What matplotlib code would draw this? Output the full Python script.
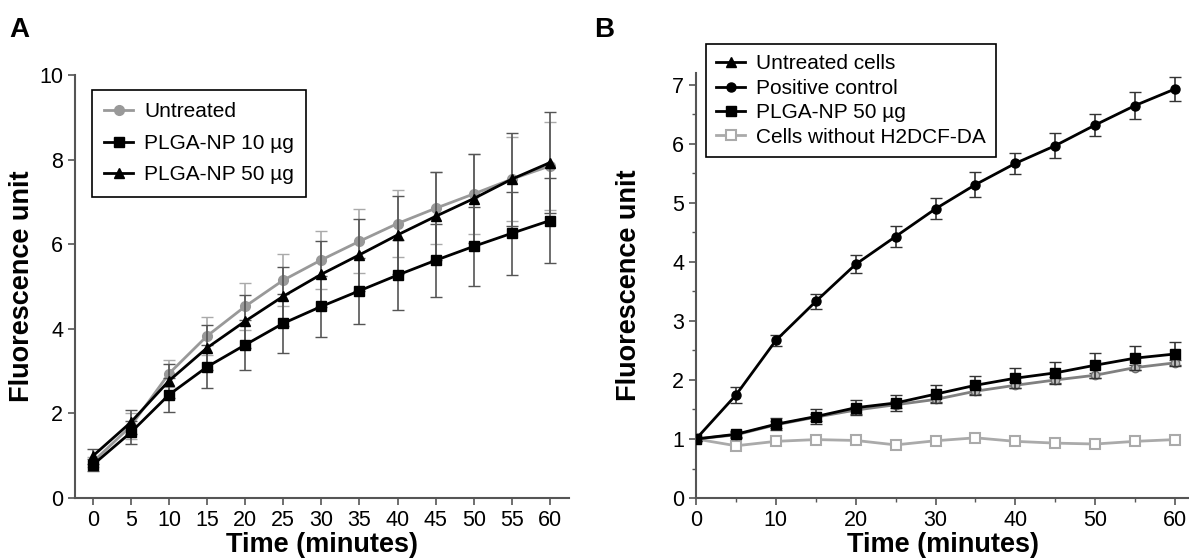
import numpy as np
import matplotlib
matplotlib.use('Agg')
import matplotlib.pyplot as plt
from matplotlib.lines import Line2D

plt.rcParams['font.family'] = ['Liberation Sans', 'DejaVu Sans']

# ---- panel A data ----
timeA = [0, 5, 10, 15, 20, 25, 30, 35, 40, 45, 50, 55, 60]
untreatedA = [0.85, 1.70, 2.94, 3.83, 4.53, 5.15, 5.63, 6.07, 6.49, 6.85, 7.19, 7.54, 7.85]
untreatedA_err = [0.12, 0.30, 0.32, 0.45, 0.56, 0.61, 0.69, 0.76, 0.80, 0.85, 0.95, 1.00, 1.03]
np10A = [0.78, 1.55, 2.44, 3.10, 3.62, 4.13, 4.53, 4.90, 5.27, 5.62, 5.95, 6.26, 6.56]
np10A_err = [0.15, 0.27, 0.40, 0.51, 0.60, 0.69, 0.73, 0.78, 0.83, 0.87, 0.93, 0.98, 1.00]
np50A = [0.99, 1.79, 2.77, 3.55, 4.18, 4.77, 5.29, 5.75, 6.22, 6.66, 7.08, 7.54, 7.93]
np50A_err = [0.18, 0.28, 0.40, 0.53, 0.63, 0.70, 0.78, 0.85, 0.92, 1.04, 1.06, 1.10, 1.20]

# ---- panel B data ----
timeB = [0, 5, 10, 15, 20, 25, 30, 35, 40, 45, 50, 55, 60]
posB = [1.0, 1.745, 2.67, 3.33, 3.96, 4.43, 4.90, 5.31, 5.67, 5.97, 6.32, 6.65, 6.93]
posB_err = [0.03, 0.13, 0.09, 0.13, 0.15, 0.18, 0.18, 0.21, 0.18, 0.21, 0.19, 0.23, 0.20]
np50B = [1.0, 1.08, 1.25, 1.38, 1.53, 1.61, 1.76, 1.91, 2.03, 2.12, 2.25, 2.37, 2.44]
np50B_err = [0.03, 0.05, 0.10, 0.12, 0.13, 0.13, 0.15, 0.16, 0.17, 0.19, 0.21, 0.20, 0.21]
untreatedB = [1.0, 1.07, 1.24, 1.37, 1.49, 1.58, 1.67, 1.81, 1.91, 2.00, 2.08, 2.21, 2.29]
untreatedB_err = [0.03, 0.05, 0.06, 0.06, 0.06, 0.06, 0.05, 0.05, 0.05, 0.05, 0.04, 0.04, 0.04]
noprobeB = [1.0, 0.885, 0.96, 0.99, 0.975, 0.90, 0.97, 1.02, 0.96, 0.93, 0.915, 0.96, 0.99]

fig = plt.figure(figsize=(11.89, 5.58), dpi=100)

spine_col = '#555555'

# ================= panel A =================
axA = fig.add_axes([0.0631, 0.1075, 0.4155, 0.758])
axA.errorbar(timeA, untreatedA, yerr=untreatedA_err, color='#999999', marker='o', ms=7,
             lw=2, ecolor='#aaaaaa', elinewidth=1.2, capsize=4, zorder=2)
axA.errorbar(timeA, np10A, yerr=np10A_err, color='black', marker='s', ms=6.5,
             lw=2, ecolor='#555555', elinewidth=1.2, capsize=4, zorder=3)
axA.errorbar(timeA, np50A, yerr=np50A_err, color='black', marker='^', ms=6.5,
             lw=2, ecolor='#555555', elinewidth=1.2, capsize=4, zorder=3)
axA.set_xlim(-2.32, 62.5)
axA.set_ylim(0, 10)
axA.set_xticks(timeA)
axA.set_yticks([0, 2, 4, 6, 8, 10])
axA.set_xlabel('Time (minutes)', fontsize=19.5, fontweight='bold', labelpad=1)
axA.set_ylabel('Fluorescence unit', fontsize=19.5, fontweight='bold', labelpad=3)
for s in ['top', 'right']:
    axA.spines[s].set_visible(False)
for s in ['left', 'bottom']:
    axA.spines[s].set_color(spine_col)
    axA.spines[s].set_linewidth(1.5)
axA.tick_params(axis='both', labelsize=15.5, color=spine_col, length=5, width=1.2, direction='out')
handlesA = [Line2D([], [], color='#999999', marker='o', ms=7, lw=2),
            Line2D([], [], color='black', marker='s', ms=6.5, lw=2),
            Line2D([], [], color='black', marker='^', ms=6.5, lw=2)]
legA = axA.legend(handlesA, ['Untreated', 'PLGA-NP 10 µg', 'PLGA-NP 50 µg'],
                  loc='upper left', bbox_to_anchor=(0.034, 0.965), borderaxespad=0,
                  fontsize=15, handlelength=1.4, handletextpad=0.5, labelspacing=0.6,
                  fancybox=False, framealpha=1, edgecolor='black', borderpad=0.6)
legA.get_frame().set_linewidth(1.2)

# ================= panel B =================
axB = fig.add_axes([0.5854, 0.1075, 0.4146, 0.7616])
axB.errorbar(timeB, noprobeB, color='#aaaaaa', marker='s', ms=7, mfc='white', mec='#aaaaaa',
             mew=1.5, lw=2, zorder=2)
axB.errorbar(timeB, untreatedB, yerr=untreatedB_err, color='#808080', marker='o', ms=6,
             mfc='#bbbbbb', mec='#707070', lw=2, ecolor='#444444', elinewidth=1.2, capsize=4, zorder=3)
axB.errorbar(timeB, np50B, yerr=np50B_err, color='black', marker='s', ms=6.5,
             lw=2, ecolor='#333333', elinewidth=1.2, capsize=4, zorder=4)
axB.errorbar(timeB, posB, yerr=posB_err, color='black', marker='o', ms=6.5,
             lw=2, ecolor='#333333', elinewidth=1.2, capsize=4, zorder=4)
axB.set_xlim(0, 61.75)
axB.set_ylim(0, 7.2)
axB.set_xticks([0, 10, 20, 30, 40, 50, 60])
axB.set_xticks([5, 15, 25, 35, 45, 55], minor=True)
axB.set_yticks([0, 1, 2, 3, 4, 5, 6, 7])
axB.set_yticks([0.5, 1.5, 2.5, 3.5, 4.5, 5.5, 6.5], minor=True)
axB.set_xlabel('Time (minutes)', fontsize=19.5, fontweight='bold', labelpad=1)
axB.set_ylabel('Fluorescence unit', fontsize=19.5, fontweight='bold', labelpad=22)
for s in ['top', 'right']:
    axB.spines[s].set_visible(False)
for s in ['left', 'bottom']:
    axB.spines[s].set_color(spine_col)
    axB.spines[s].set_linewidth(1.5)
axB.tick_params(axis='both', which='major', labelsize=15.5, color=spine_col, length=5, width=1.2)
axB.tick_params(axis='both', which='minor', color=spine_col, length=3, width=1.0)
handlesB = [Line2D([], [], color='black', marker='^', ms=6.5, lw=2),
            Line2D([], [], color='black', marker='o', ms=6.5, lw=2),
            Line2D([], [], color='black', marker='s', ms=6.5, lw=2),
            Line2D([], [], color='#aaaaaa', marker='s', ms=7, mfc='white', mec='#aaaaaa', mew=1.5, lw=2)]
legB = axB.legend(handlesB, ['Untreated cells', 'Positive control', 'PLGA-NP 50 µg',
                             'Cells without H2DCF-DA'],
                  loc='upper left', bbox_to_anchor=(0.5935, 0.921), bbox_transform=fig.transFigure,
                  borderaxespad=0, fontsize=15, handlelength=1.4, handletextpad=0.5,
                  labelspacing=0.26, fancybox=False, framealpha=1, edgecolor='black', borderpad=0.5)
legB.get_frame().set_linewidth(1.2)

fig.text(0.008, 0.946, 'A', fontsize=20, fontweight='bold', va='center')
fig.text(0.500, 0.946, 'B', fontsize=20, fontweight='bold', va='center')

fig.savefig('out.png', dpi=100)
